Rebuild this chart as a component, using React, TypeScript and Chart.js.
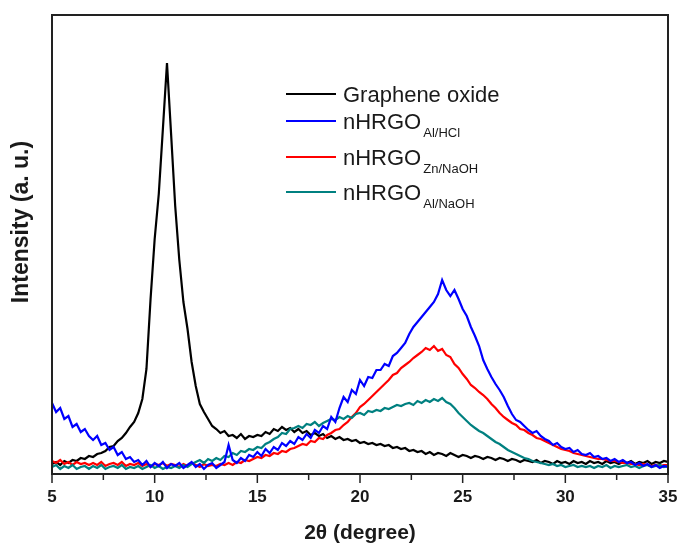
import React, { useEffect, useRef } from "react";
import { Chart, registerables } from "chart.js";

Chart.register(...registerables);

// 2θ sampling grid of the scans (degrees)
const twoThetaStart = 5;
const twoThetaStep = 0.2;

// Intensities (a. u.), one value per 0.2° from 5° to 35°
const grapheneOxide = [
  10, 12, 9, 13, 11, 14, 13, 16, 15, 18,
  17, 20, 21, 23, 27, 28, 33, 36, 41, 47,
  52, 61, 75, 105, 175, 235, 280, 345, 411, 340,
  268, 214, 172, 145, 112, 88, 70, 62, 55, 48,
  45, 41, 43, 38, 39, 36, 40, 35, 38, 37,
  39, 38, 42, 40, 45, 43, 47, 44, 46, 42,
  45, 41, 43, 39, 41, 38, 40, 36, 38, 35,
  37, 34, 35, 33, 34, 31, 32, 30, 31, 29,
  30, 28, 29, 26, 27, 25, 26, 23, 24, 22,
  23, 20, 22, 19, 21, 20, 18, 21, 19, 17,
  19, 18, 16, 18, 17, 15, 17, 16, 14, 16,
  15, 13, 15, 14, 12, 14, 13, 12, 14, 11,
  13, 12, 10, 13, 11, 12, 10, 13, 11, 12,
  10, 13, 11, 12, 10, 13, 11, 12, 10, 12,
  11, 13, 10, 12, 11, 13, 10, 12, 11, 13,
  12,
];

const nhrgoAlHcl = [
  71, 62, 66, 55, 58, 47, 50, 42, 45, 38,
  34, 38, 29, 31, 24, 27, 19, 22, 15, 17,
  12, 14, 9, 13, 7, 11, 8, 12, 6, 10,
  8, 11, 6, 9, 12, 7, 10, 5, 9, 11,
  6, 9, 12, 29, 14, 11, 16, 13, 19, 17,
  22, 18, 25, 21, 27, 24, 31, 28, 33, 30,
  37, 34, 40, 36, 44, 41, 48, 45, 57, 52,
  66, 77, 72, 84, 80, 94, 88, 97, 96, 104,
  104, 110, 108, 118, 121, 126, 131, 140, 147, 152,
  157, 162, 167, 172, 180, 194, 184, 178, 184, 175,
  165, 158, 147, 138, 128, 114, 105, 97, 90, 84,
  77, 68, 60, 54, 52, 48, 44, 41, 43, 38,
  35, 33, 29, 31, 27, 25, 26, 22, 24, 20,
  19, 21, 17, 18, 15, 16, 13, 15, 12, 14,
  11, 12, 9, 11, 8, 10, 7, 9, 6, 8,
  7,
];

const nhrgoZnNaoh = [
  13, 11, 14, 10, 12, 9, 12, 10, 11, 9,
  11, 9, 12, 8, 10, 11, 9, 12, 8, 10,
  9, 11, 8, 10, 7, 10, 9, 11, 8, 10,
  9, 7, 10, 8, 11, 9, 7, 10, 8, 9,
  8, 10, 9, 11, 9, 12, 11, 14, 13, 15,
  17, 16, 19, 18, 21, 20, 23, 22, 25, 26,
  28, 30, 29, 33, 32, 36, 35, 39, 41, 44,
  45, 49, 52, 57, 61, 67, 70, 74, 78, 82,
  86, 90, 94, 99, 101, 106, 109, 112, 116, 119,
  122, 126, 124, 128, 123, 125, 119, 117, 110, 106,
  100, 95, 89, 86, 82, 79, 75, 70, 66, 61,
  57, 54, 51, 49, 45, 44, 41, 39, 36, 35,
  33, 31, 29, 27, 25, 24, 23, 21, 20, 19,
  18, 17, 16, 15, 15, 14, 13, 13, 12, 11,
  11, 10, 10, 9, 10, 9, 8, 9, 8, 9,
  9,
];

const nhrgoAlNaoh = [
  7, 9, 5, 8, 6, 9, 5, 7, 8, 5,
  8, 6, 9, 5, 7, 8, 6, 9, 5, 7,
  6, 8, 5, 7, 9, 6, 8, 5, 7, 6,
  8, 6, 9, 7, 10, 12, 14, 11, 15, 13,
  16, 14, 18, 17, 21, 19, 23, 22, 25, 24,
  27, 26, 30, 32, 35, 37, 41, 40, 45, 46,
  48, 46, 50, 49, 52, 48, 51, 53, 55, 54,
  57, 55, 58, 56, 60, 61, 59, 63, 62, 64,
  63, 66, 65, 67, 69, 68, 70, 71, 69, 73,
  71, 74, 72, 75, 73, 76, 72, 70, 66, 61,
  57, 53, 49, 46, 43, 41, 38, 35, 32, 30,
  27, 24, 22, 20, 18, 16, 15, 13, 12, 11,
  10, 9, 10, 8, 9, 7, 8, 9, 7, 8,
  7, 8, 6, 8, 7, 9, 6, 8, 7, 8,
  9, 7, 8, 6, 8, 9, 7, 8, 9, 7,
  8,
];

const seriesNames = ["Graphene oxide", "nHRGO", "nHRGO", "nHRGO"];
const seriesSubscripts = ["", "Al/HCl", "Zn/NaOH", "Al/NaOH"];
const seriesColors = ["#000000", "#0000ff", "#ff0000", "#008080"];
const seriesValues = [grapheneOxide, nhrgoAlHcl, nhrgoZnNaoh, nhrgoAlNaoh];
const seriesDrawOrder = [4, 1, 3, 2]; // lower = drawn on top

const xMin = 5;
const xMax = 35;
const xStep = 2.5;
const yMin = 0;
const yMax = 459;

const xTitle = "2\u03b8 (degree)";
const yTitle = "Intensity (a. u.)";

const FONT = "'Liberation Sans', Arial, Helvetica, sans-serif";

const decorPlugin = {
  id: "decor",
  beforeDraw(chart: any) {
    const { ctx } = chart;
    ctx.save();
    ctx.fillStyle = "#ffffff";
    ctx.fillRect(0, 0, chart.width, chart.height);
    ctx.restore();
  },
  afterDraw(chart: any) {
    const { ctx, chartArea } = chart;
    const { left, right, top, bottom } = chartArea;
    const xs = chart.scales.x;
    ctx.save();
    // frame
    ctx.strokeStyle = "#222222";
    ctx.lineWidth = 2;
    ctx.strokeRect(left, top, right - left, bottom - top);
    // x tick marks (major / minor)
    ctx.lineWidth = 1.5;
    xs.ticks.forEach((t: any) => {
      const px = xs.getPixelForValue(t.value);
      const major = Math.abs(t.value % 5) < 1e-6;
      ctx.beginPath();
      ctx.moveTo(px, bottom);
      ctx.lineTo(px, bottom + (major ? 9 : 6));
      ctx.stroke();
    });
    // axis titles
    ctx.fillStyle = "#1a1a1a";
    ctx.textAlign = "center";
    ctx.textBaseline = "middle";
    ctx.font = `bold 21px ${FONT}`;
    ctx.fillText(xTitle, (left + right) / 2, 533);
    ctx.save();
    ctx.font = `bold 23px ${FONT}`;
    ctx.translate(22, 222);
    ctx.rotate(-Math.PI / 2);
    ctx.fillText(yTitle, 0, 0);
    ctx.restore();
    // legend with subscripts
    const rowY = [94, 121, 157, 192];
    ctx.textAlign = "left";
    ctx.textBaseline = "alphabetic";
    seriesNames.forEach((name, i) => {
      const y = rowY[i];
      ctx.strokeStyle = seriesColors[i];
      ctx.lineWidth = 2;
      ctx.beginPath();
      ctx.moveTo(286, y);
      ctx.lineTo(336, y);
      ctx.stroke();
      ctx.fillStyle = "#1a1a1a";
      ctx.font = `22px ${FONT}`;
      ctx.fillText(name, 343, y + 8);
      const sub = seriesSubscripts[i];
      if (sub) {
        const w = ctx.measureText(name).width;
        ctx.font = `13px ${FONT}`;
        ctx.fillText(sub, 343 + w + 2, y + 16);
      }
    });
    ctx.restore();
  },
};

export default function App() {
  const canvasRef = useRef<HTMLCanvasElement | null>(null);

  useEffect(() => {
    const canvas = canvasRef.current;
    if (!canvas) return;
    const datasets = seriesValues.map((vals, i) => ({
      label: seriesSubscripts[i] ? `${seriesNames[i]} ${seriesSubscripts[i]}` : seriesNames[i],
      data: vals.map((v, k) => ({ x: twoThetaStart + k * twoThetaStep, y: v })),
      borderColor: seriesColors[i],
      backgroundColor: seriesColors[i],
      borderWidth: 2.2,
      pointRadius: 0,
      tension: 0,
      fill: false,
      order: seriesDrawOrder[i],
    }));
    const chart = new Chart(canvas, {
      type: "line",
      data: { datasets },
      options: {
        animation: false,
        responsive: false,
        devicePixelRatio: 1,
        layout: { padding: { top: 15, right: 12, left: 0, bottom: 0 } },
        plugins: { legend: { display: false }, tooltip: { enabled: false } },
        scales: {
          x: {
            type: "linear",
            min: xMin,
            max: xMax,
            grid: { display: false, drawTicks: false },
            border: { display: false },
            ticks: {
              stepSize: xStep,
              autoSkip: false,
              maxRotation: 0,
              padding: 13,
              color: "#1a1a1a",
              font: { family: FONT, size: 17, weight: "bold" },
              callback: (v: any) => (Math.abs(Number(v) % 5) < 1e-6 ? String(v) : ""),
            },
            afterFit: (s: any) => {
              s.height = 71;
              s.paddingLeft = 0;
              s.paddingRight = 0;
            },
          },
          y: {
            type: "linear",
            min: yMin,
            max: yMax,
            grid: { display: false, drawTicks: false },
            border: { display: false },
            ticks: { display: false },
            afterFit: (s: any) => {
              s.width = 52;
              s.paddingTop = 0;
              s.paddingBottom = 0;
            },
          },
        },
      },
      plugins: [decorPlugin],
    });
    return () => chart.destroy();
  }, []);

  return (
    <div style={{ position: "absolute", left: 0, top: 0, width: 680, height: 545 }}>
      <canvas ref={canvasRef} width={680} height={545} style={{ display: "block" }} />
    </div>
  );
}
